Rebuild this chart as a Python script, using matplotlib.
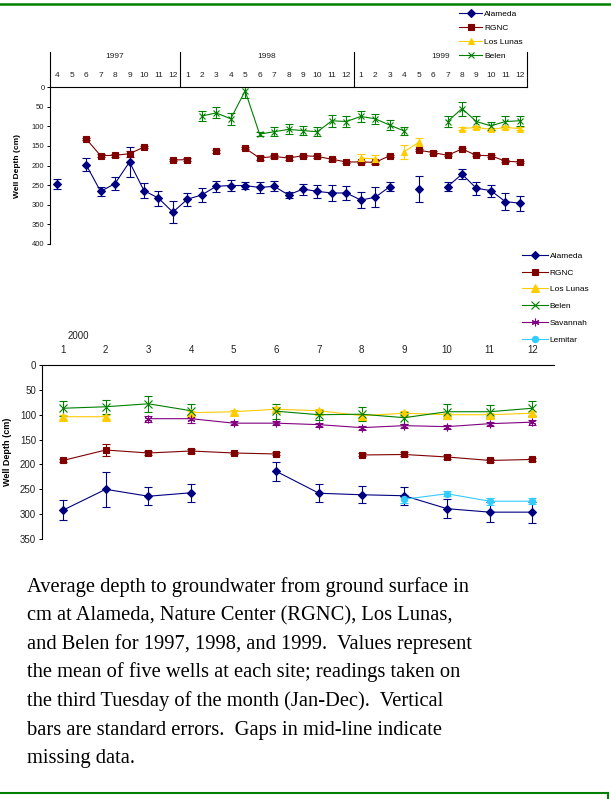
import numpy as np
import matplotlib.pyplot as plt
from matplotlib.lines import Line2D
from matplotlib.transforms import blended_transform_factory

# ---- data: top panel (Apr 1997 - Dec 1999) ----
years_top = ['1997', '1998', '1999']
months_top = [str(m) for m in range(4, 13)] + [str(m) for m in range(1, 13)] * 2

alameda_top = [247, None, 198, 266, 246, 191, 264, 283, 319,
               286, 275, 253, 251, 251, 256, 253, 275, 260, 266, 270, 270,
               288, 281, 254, None, 260, None, 254, 222, 258, 264, 292, 296]
alameda_top_se = [13, None, 17, 12, 17, 39, 20, 19, 28,
                  17, 17, 14, 13, 10, 13, 13, 8, 14, 16, 21, 18,
                  20, 25, 11, None, 34, None, 11, 13, 17, 15, 22, 19]

rgnc_top = [None, None, 132, 175, 174, 170, 153, None, 186,
            185, None, 164, None, 156, 181, 177, 181, 175, 177, 184, 191,
            191, 192, 175, None, 161, 167, 174, 158, 174, 175, 189, 191]
rgnc_top_se = [None, None, 3, 4, 4, 8, 3, None, 3,
               3, None, 3, None, 3, 4, 4, 4, 3, 3, 4, 3,
               3, 4, 3, None, 3, 3, 3, 3, 3, 3, 3, 3]

lunas_top = [None] * 21 + [181, 183, None, 165, 141, None, None, 106, 103, 108, 103, 106]
lunas_top_se = [None] * 21 + [11, 11, None, 18, 10, None, None, 4, 4, 4, 4, 4]

belen_top = [None] * 10 + [74, 66, 81, 10, 120, 114, 108, 111, 114, 86, 88,
                           75, 81, 97, 112, None, None, 88, 55, 88, 99, 88, 86]
belen_top_se = [None] * 10 + [13, 14, 15, 18, 5, 12, 13, 12, 12, 15, 13,
                              14, 13, 12, 11, None, None, 15, 18, 13, 11, 13, 13]

# ---- data: bottom panel (2000) ----
months_bot = [str(m) for m in range(1, 13)]

alameda_bot = [292, 250, 264, 257, None, 214, 258, 261, 263, 289, 296, 296]
alameda_bot_se = [20, 35, 18, 18, None, 19, 18, 17, 18, 19, 20, 21]
rgnc_bot = [192, 171, 177, 173, 177, 179, None, 181, 180, 185, 192, 190]
rgnc_bot_se = [3, 12, 4, 4, 3, 3, None, 3, 4, 4, 3, 3]
lunas_bot = [104, 104, None, 96, 94, 89, 92, 102, 97, 100, 100, 97]
lunas_bot_se = [4, 4, None, 4, 4, 4, 4, 4, 4, 4, 4, 4]
belen_bot = [87, 84, 78, 92, None, 93, 100, 99, 106, 94, 94, 87]
belen_bot_se = [15, 14, 16, 13, None, 15, 10, 14, 12, 15, 13, 15]
savannah_bot = [None, None, 108, 108, 117, 117, 120, 126, 122, 124, 118, 115]
savannah_bot_se = [None, None, 6, 8, 4, 4, 4, 4, 4, 4, 4, 5]
lemitar_bot = [None] * 8 + [270, 259, 274, 274]
lemitar_bot_se = [None] * 8 + [8, 5, 7, 6]

caption = ["Average depth to groundwater from ground surface in",
           "cm at Alameda, Nature Center (RGNC), Los Lunas,",
           "and Belen for 1997, 1998, and 1999.  Values represent",
           "the mean of five wells at each site; readings taken on",
           "the third Tuesday of the month (Jan-Dec).  Vertical",
           "bars are standard errors.  Gaps in mid-line indicate",
           "missing data."]

# ---- styles ----
NAVY, MAROON, GOLD, GREEN, PURPLE, CYAN = '#000080', '#800000', '#FFCC00', '#008000', '#800080', '#33CCFF'
STAR = (6, 2, 0)

plt.rcParams['font.family'] = ['Liberation Sans', 'DejaVu Sans']

W, H = 611, 799
fig = plt.figure(figsize=(W / 100, H / 100), dpi=100)
fig.patch.set_facecolor('white')


def box(l, t, r, b):
    return [l / W, 1 - b / H, (r - l) / W, (b - t) / H]


def series(ax, x, y, se, color, marker, ms, label):
    y = np.array(y, dtype=float)
    se = np.array(se, dtype=float)
    c = ax.errorbar(x, y, yerr=se, color=color, lw=0.8, marker=marker, ms=ms,
                    mfc=color, mec=color, mew=0.8, ecolor=color, elinewidth=0.8,
                    capsize=3, capthick=0.8, label=label)
    return c.lines[0]


def style_axes(ax, ymax, ylabsize, xlabsize, xpad):
    ax.set_ylim(ymax, 0)
    ax.set_yticks(np.arange(0, ymax + 1, 50))
    for s in ['right', 'bottom']:
        ax.spines[s].set_visible(False)
    for s in ['left', 'top']:
        ax.spines[s].set_linewidth(0.8)
    ax.xaxis.tick_top()
    ax.tick_params(axis='x', length=0, pad=xpad, labelsize=xlabsize, labelcolor='#222222')
    ax.tick_params(axis='y', length=2.5, width=0.7, pad=1.5, labelsize=ylabsize, labelcolor='#222222')


# ==============================
# TOP PANEL
# ==============================
ax1 = fig.add_axes(box(50, 87, 527, 244))
x1 = np.arange(len(months_top))
h_al = series(ax1, x1, alameda_top, alameda_top_se, NAVY, 'D', 4.3, 'Alameda')
h_rg = series(ax1, x1, rgnc_top, rgnc_top_se, MAROON, 's', 4.8, 'RGNC')
h_ll = series(ax1, x1, lunas_top, lunas_top_se, GOLD, '^', 5, 'Los Lunas')
h_be = series(ax1, x1, belen_top, belen_top_se, GREEN, 'x', 5, 'Belen')
ax1.set_xlim(-0.5, len(months_top) - 0.5)
ax1.set_xticks(x1)
ax1.set_xticklabels(months_top)
style_axes(ax1, 400, 5.5, 6, 6)
ax1.set_ylabel('Well Depth (cm)', fontsize=6, fontweight='bold')
ax1.yaxis.set_label_coords(-29 / 477, 0.5)

trans1 = blended_transform_factory(ax1.transData, ax1.transAxes)
bounds = [-0.5, 8.5, 20.5, 32.5]
for xb in bounds:
    ax1.plot([xb, xb], [1, 1 + 35 / 157], transform=trans1, clip_on=False, color='black', lw=0.8)
for i, yr in enumerate(years_top):
    ax1.text((bounds[i] + bounds[i + 1]) / 2, 1 + 30 / 157, yr, transform=trans1,
             ha='center', va='center', fontsize=6, color='#222222')

fig.legend([h_al, h_rg, h_ll, h_be], ['Alameda', 'RGNC', 'Los Lunas', 'Belen'],
           loc='upper left', bbox_to_anchor=(459 / W, 1 - 10 / H), frameon=False,
           fontsize=6, handlelength=2.8, handletextpad=0.25, labelspacing=0.75,
           borderpad=0, borderaxespad=0)

# ==============================
# BOTTOM PANEL
# ==============================
ax2 = fig.add_axes(box(41.7, 365, 553.7, 539))
x2 = np.arange(1, len(months_bot) + 1)
g_al = series(ax2, x2, alameda_bot, alameda_bot_se, NAVY, 'D', 4.5, 'Alameda')
g_rg = series(ax2, x2, rgnc_bot, rgnc_bot_se, MAROON, 's', 5, 'RGNC')
g_ll = series(ax2, x2, lunas_bot, lunas_bot_se, GOLD, '^', 5.5, 'Los Lunas')
g_be = series(ax2, x2, belen_bot, belen_bot_se, GREEN, 'x', 5.5, 'Belen')
g_sa = series(ax2, x2, savannah_bot, savannah_bot_se, PURPLE, STAR, 5.5, 'Savannah')
g_le = series(ax2, x2, lemitar_bot, lemitar_bot_se, CYAN, 'o', 4.5, 'Lemitar')
ax2.set_xlim(0.5, len(months_bot) + 0.5)
ax2.set_xticks(x2)
ax2.set_xticklabels(months_bot)
style_axes(ax2, 350, 7, 7, 7)
ax2.set_ylabel('Well Depth (cm)', fontsize=6.5, fontweight='bold')
ax2.yaxis.set_label_coords(-30 / 512, 0.5)

trans2 = blended_transform_factory(ax2.transData, ax2.transAxes)
ax2.text(1.35, 1 + 29 / 174, '2000', transform=trans2, ha='center', va='center',
         fontsize=7, color='#222222')

fig.legend([g_al, g_rg, g_ll, g_be, g_sa, g_le],
           ['Alameda', 'RGNC', 'Los Lunas', 'Belen', 'Savannah', 'Lemitar'],
           loc='upper left', bbox_to_anchor=(522 / W, 1 - 252 / H), frameon=False,
           fontsize=6, handlelength=3.1, handletextpad=0.2, labelspacing=1.07,
           borderpad=0, borderaxespad=0)

# ==============================
# CAPTION AND BORDERS
# ==============================
for i, line in enumerate(caption):
    fig.text(27 / W, 1 - (591.7 + 28.6 * i) / H, line, fontsize=14.8,
             family=['Liberation Serif', 'DejaVu Serif'], ha='left', va='baseline')

fig.add_artist(Line2D([0, 1], [1 - 4 / H, 1 - 4 / H], color=GREEN, lw=1.8))
fig.add_artist(Line2D([0, 608 / W], [1 - 793 / H, 1 - 793 / H], color=GREEN, lw=1.5))
fig.add_artist(Line2D([608 / W, 608 / W], [1 - 793 / H, 0], color=GREEN, lw=1.5))

fig.savefig('out.png', dpi=100)
